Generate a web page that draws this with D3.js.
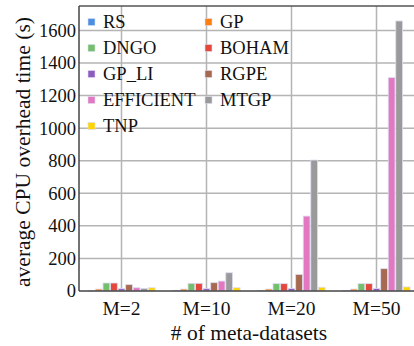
<!DOCTYPE html>
<html>
<head>
<meta charset="utf-8">
<script src="https://cdn.jsdelivr.net/npm/d3@7"></script>
<style>
  body { margin: 0; background: #fff; }
</style>
</head>
<body>
<div id="chart"></div>
<script>
'use strict';

var categories = ['M=2', 'M=10', 'M=20', 'M=50'];
var seriesNames = ['RS', 'GP', 'DNGO', 'BOHAM', 'GP_LI', 'RGPE', 'EFFICIENT', 'MTGP', 'TNP'];
var seriesColors = ['#4a8fe0', '#ff7f0e', '#74bf6c', '#e5483b', '#8c5cbf', '#a76a51', '#e377c2', '#9a9a9a', '#ffd400'];

// one array per method, values for M=2, M=10, M=20, M=50
var RS        = [2, 2, 2, 2];
var GP        = [12, 12, 12, 12];
var DNGO      = [49, 47, 45, 45];
var BOHAM     = [49, 47, 45, 45];
var GP_LI     = [14, 14, 15, 15];
var RGPE      = [39, 51, 102, 137];
var EFFICIENT = [20, 61, 460, 1310];
var MTGP      = [16, 112, 804, 1658];
var TNP       = [20, 20, 23, 25];

var yTicks = [0, 200, 400, 600, 800, 1000, 1200, 1400, 1600];

var values = [RS, GP, DNGO, BOHAM, GP_LI, RGPE, EFFICIENT, MTGP, TNP];

var width = 414, height = 346;
var margin = {left: 79, right: 419, top: 6, bottom: 291};
var serif = "'Liberation Serif', Tinos, FreeSerif";

var svg = d3.select('#chart').append('svg')
  .attr('width', width)
  .attr('height', height);

var x = d3.scaleBand()
  .domain(categories)
  .range([margin.left, margin.right])
  .paddingInner(0.2)
  .paddingOuter(0.1);

var xInner = d3.scaleBand()
  .domain(seriesNames)
  .range([0, x.bandwidth()]);

var y = d3.scaleLinear()
  .domain([0, 1750])
  .range([margin.bottom, margin.top]);

// grid
svg.append('g')
  .selectAll('line')
  .data(yTicks.slice(1))
  .enter().append('line')
    .attr('x1', margin.left)
    .attr('x2', width)
    .attr('y1', function(d){ return y(d); })
    .attr('y2', function(d){ return y(d); })
    .attr('stroke', '#b4b4b4')
    .attr('stroke-width', 1.5);

svg.append('g')
  .selectAll('line')
  .data(categories)
  .enter().append('line')
    .attr('x1', function(d){ return x(d) + x.bandwidth() / 2; })
    .attr('x2', function(d){ return x(d) + x.bandwidth() / 2; })
    .attr('y1', margin.top)
    .attr('y2', margin.bottom)
    .attr('stroke', '#b4b4b4')
    .attr('stroke-width', 1.5);

// bars
var rows = [];
categories.forEach(function(c, ci){
  seriesNames.forEach(function(s, si){
    rows.push({cat: c, name: s, value: values[si][ci], color: seriesColors[si]});
  });
});

svg.append('g')
  .selectAll('rect')
  .data(rows)
  .enter().append('rect')
    .attr('x', function(d){ return x(d.cat) + xInner(d.name) + 0.4; })
    .attr('width', xInner.bandwidth() - 0.8)
    .attr('y', function(d){ return y(d.value); })
    .attr('height', function(d){ return y(0) - y(d.value); })
    .style('fill', function(d){ return d.color; })
    .attr('stroke', '#dcdcf2')
    .attr('stroke-width', 0.8);

// frame
svg.append('line')
  .attr('x1', margin.left).attr('x2', width)
  .attr('y1', margin.top).attr('y2', margin.top)
  .attr('stroke', '#555').attr('stroke-width', 1.5);
svg.append('line')
  .attr('x1', margin.left).attr('x2', width)
  .attr('y1', margin.bottom).attr('y2', margin.bottom)
  .attr('stroke', '#444').attr('stroke-width', 1.5);
svg.append('line')
  .attr('x1', margin.left).attr('x2', margin.left)
  .attr('y1', margin.top).attr('y2', margin.bottom)
  .attr('stroke', '#444').attr('stroke-width', 1.5);

// tick labels
svg.append('g')
  .selectAll('text')
  .data(yTicks)
  .enter().append('text')
    .attr('x', margin.left - 3)
    .attr('y', function(d){ return y(d); })
    .attr('dy', '0.35em')
    .attr('text-anchor', 'end')
    .style('font-family', serif)
    .style('font-size', '18.5px')
    .style('fill', '#111')
    .text(function(d){ return d; });

svg.append('g')
  .selectAll('text')
  .data(categories)
  .enter().append('text')
    .attr('x', function(d){ return x(d) + x.bandwidth() / 2; })
    .attr('y', 315)
    .attr('text-anchor', 'middle')
    .style('font-family', serif)
    .style('font-size', '19.5px')
    .style('fill', '#111')
    .text(function(d){ return d; });

// axis titles
svg.append('text')
  .attr('x', 249)
  .attr('y', 340)
  .attr('text-anchor', 'middle')
  .style('font-family', serif)
  .style('font-size', '21.5px')
  .style('fill', '#111')
  .text('# of meta-datasets');

svg.append('text')
  .attr('transform', 'translate(30,' + 152 + ') rotate(-90)')
  .attr('text-anchor', 'middle')
  .style('font-family', serif)
  .style('font-size', '21.5px')
  .style('fill', '#111')
  .text('average CPU overhead time (s)');

// legend
var legend = svg.append('g')
  .selectAll('g')
  .data(seriesNames)
  .enter().append('g')
    .attr('transform', function(d, i){
      var col = i % 2, row = Math.floor(i / 2);
      return 'translate(' + (col ? 205 : 88) + ',' + (22 + row * 26) + ')';
    });

legend.append('rect')
  .attr('x', 0).attr('y', -3.5)
  .attr('width', 7).attr('height', 7)
  .style('fill', function(d, i){ return seriesColors[i]; })
  .attr('stroke', '#dcdcf2')
  .attr('stroke-width', 0.6);

legend.append('text')
  .attr('x', 15)
  .attr('y', 0)
  .attr('dy', '0.35em')
  .style('font-family', serif)
  .style('font-size', '18.5px')
  .style('fill', '#111')
  .text(function(d){ return d; });
</script>
</body>
</html>
